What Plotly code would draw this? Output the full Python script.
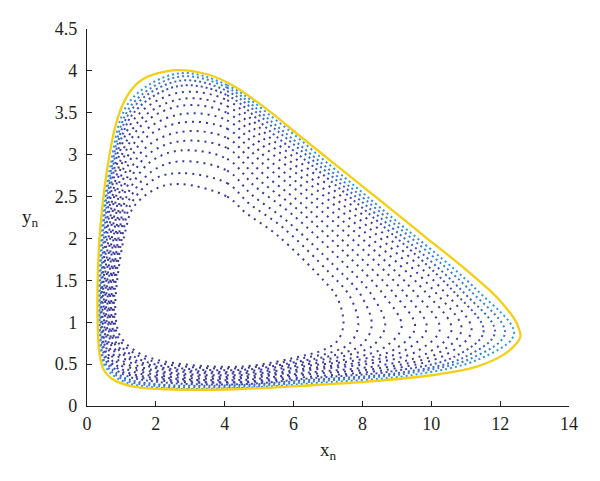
import plotly.graph_objects as go

s01_x = [2.71, 2.71, 2.70, 2.70, 2.70, 2.69, 2.69, 2.69, 2.68, 2.68, 2.67, 2.67, 2.66, 2.66, 2.65]
s01_y = [2.65, 2.78, 2.92, 3.05, 3.16, 3.27, 3.38, 3.48, 3.58, 3.66, 3.74, 3.82, 3.88, 3.93, 3.97]
s02_x = [4.07, 4.07, 4.07, 4.07, 4.07, 4.07, 4.07, 4.07, 4.07, 4.07, 4.07, 4.07, 4.07, 4.07, 4.07]
s02_y = [2.50, 2.66, 2.81, 2.95, 3.08, 3.20, 3.31, 3.41, 3.50, 3.58, 3.65, 3.71, 3.76, 3.80, 3.83]
s03_x = [4.60, 4.70, 4.79, 4.88, 4.96, 5.04, 5.12, 5.19, 5.26, 5.32, 5.38, 5.43, 5.48, 5.52, 5.56]
s03_y = [2.31, 2.42, 2.52, 2.62, 2.71, 2.80, 2.89, 2.97, 3.05, 3.12, 3.18, 3.24, 3.30, 3.34, 3.39]
s04_x = [5.52, 5.69, 5.83, 5.98, 6.11, 6.25, 6.38, 6.49, 6.61, 6.71, 6.81, 6.89, 6.97, 7.04, 7.10]
s04_y = [2.04, 2.13, 2.20, 2.28, 2.35, 2.41, 2.48, 2.54, 2.60, 2.65, 2.70, 2.75, 2.79, 2.82, 2.86]
s05_x = [6.87, 7.04, 7.19, 7.35, 7.49, 7.62, 7.76, 7.88, 8.00, 8.10, 8.20, 8.29, 8.37, 8.44, 8.51]
s05_y = [1.50, 1.59, 1.67, 1.75, 1.83, 1.90, 1.97, 2.04, 2.10, 2.16, 2.21, 2.26, 2.30, 2.34, 2.37]
s06_x = [7.26, 7.63, 7.96, 8.28, 8.61, 8.92, 9.22, 9.53, 9.83, 10.09, 10.36, 10.62, 10.88, 11.10, 11.31]
s06_y = [1.30, 1.31, 1.32, 1.32, 1.33, 1.34, 1.35, 1.35, 1.36, 1.37, 1.37, 1.38, 1.38, 1.39, 1.39]
s07_x = [7.45, 7.88, 8.27, 8.66, 9.14, 9.53, 9.87, 10.25, 10.59, 10.88, 11.17, 11.52, 11.85, 12.14, 12.40]
s07_y = [0.98, 0.97, 0.96, 0.96, 0.95, 0.94, 0.93, 0.92, 0.91, 0.91, 0.90, 0.89, 0.88, 0.87, 0.86]
s08_x = [7.26, 7.64, 7.97, 8.30, 8.64, 8.95, 9.26, 9.57, 9.88, 10.15, 10.41, 10.68, 10.95, 11.17, 11.39]
s08_y = [0.77, 0.75, 0.73, 0.72, 0.70, 0.68, 0.67, 0.65, 0.63, 0.62, 0.61, 0.59, 0.58, 0.57, 0.56]
s09_x = [6.87, 7.09, 7.31, 7.50, 7.69, 7.88, 8.07, 8.26, 8.45, 8.64, 8.81, 8.97, 9.14, 9.30, 9.45]
s09_y = [0.67, 0.64, 0.62, 0.60, 0.57, 0.55, 0.53, 0.51, 0.48, 0.46, 0.44, 0.42, 0.40, 0.39, 0.37]
s10_x = [6.38, 6.39, 6.40, 6.41, 6.42, 6.42, 6.43, 6.44, 6.45, 6.46, 6.47, 6.47, 6.48, 6.49, 6.49]
s10_y = [0.61, 0.58, 0.55, 0.53, 0.50, 0.48, 0.45, 0.43, 0.40, 0.38, 0.35, 0.33, 0.31, 0.29, 0.27]
s11_x = [4.45, 4.45, 4.45, 4.45, 4.45, 4.45, 4.45, 4.45, 4.45, 4.45, 4.45, 4.45, 4.45, 4.45, 4.45]
s11_y = [0.47, 0.45, 0.43, 0.41, 0.39, 0.37, 0.35, 0.33, 0.31, 0.29, 0.28, 0.26, 0.25, 0.23, 0.215]
s12_x = [2.04, 2.04, 2.04, 2.03, 2.03, 2.03, 2.02, 2.02, 2.02, 2.02, 2.01, 2.01, 2.01, 2.00, 2.00]
s12_y = [0.55, 0.52, 0.49, 0.47, 0.45, 0.42, 0.40, 0.37, 0.35, 0.33, 0.31, 0.29, 0.26, 0.24, 0.22]
s13_x = [1.36, 1.33, 1.29, 1.27, 1.24, 1.21, 1.18, 1.15, 1.12, 1.09, 1.07, 1.04, 1.02, 0.99, 0.97]
s13_y = [0.67, 0.64, 0.61, 0.58, 0.56, 0.53, 0.50, 0.48, 0.45, 0.42, 0.40, 0.38, 0.35, 0.33, 0.31]
s14_x = [0.97, 0.93, 0.89, 0.85, 0.82, 0.78, 0.75, 0.71, 0.67, 0.64, 0.61, 0.58, 0.55, 0.52, 0.49]
s14_y = [0.83, 0.80, 0.77, 0.75, 0.73, 0.70, 0.68, 0.65, 0.63, 0.60, 0.58, 0.56, 0.54, 0.52, 0.50]
s15_x = [0.85, 0.81, 0.77, 0.73, 0.69, 0.65, 0.62, 0.58, 0.54, 0.51, 0.47, 0.44, 0.41, 0.38, 0.35]
s15_y = [1.00, 0.99, 0.98, 0.98, 0.97, 0.96, 0.96, 0.95, 0.94, 0.94, 0.93, 0.92, 0.92, 0.91, 0.91]
s16_x = [0.83, 0.79, 0.75, 0.71, 0.67, 0.64, 0.60, 0.56, 0.53, 0.49, 0.46, 0.43, 0.40, 0.37, 0.34]
s16_y = [1.30, 1.30, 1.30, 1.30, 1.30, 1.30, 1.30, 1.30, 1.30, 1.30, 1.30, 1.30, 1.30, 1.30, 1.30]
s17_x = [1.12, 1.06, 1.00, 0.95, 0.90, 0.85, 0.80, 0.75, 0.70, 0.65, 0.60, 0.56, 0.51, 0.47, 0.43]
s17_y = [2.10, 2.10, 2.10, 2.10, 2.10, 2.10, 2.10, 2.10, 2.10, 2.10, 2.10, 2.10, 2.10, 2.10, 2.10]
s18_x = [1.36, 1.29, 1.22, 1.15, 1.09, 1.03, 0.98, 0.92, 0.87, 0.83, 0.78, 0.75, 0.71, 0.68, 0.65]
s18_y = [2.38, 2.42, 2.46, 2.50, 2.54, 2.57, 2.61, 2.64, 2.67, 2.70, 2.72, 2.75, 2.77, 2.78, 2.80]
s19_x = [2.04, 1.96, 1.88, 1.80, 1.74, 1.67, 1.60, 1.54, 1.49, 1.44, 1.38, 1.34, 1.30, 1.27, 1.23]
s19_y = [2.60, 2.71, 2.80, 2.90, 2.99, 3.07, 3.16, 3.23, 3.31, 3.37, 3.43, 3.49, 3.54, 3.58, 3.63]

# Limit cycle (yellow curve)
lc_x = [2.62, 3.49, 4.26, 5.23, 6.19, 7.16, 8.13, 8.80, 9.91, 10.25, 11.03, 11.70, 11.99, 12.38, 12.48, 12.59,
        12.48, 12.09, 11.32, 10.06, 8.13, 6.19, 4.26, 2.33, 1.36, 0.78, 0.49, 0.36, 0.31, 0.31, 0.36, 0.39,
        0.49, 0.63, 0.80, 1.02, 1.30, 1.62, 2.04, 2.62]
lc_y = [4.01, 3.96, 3.82, 3.54, 3.22, 2.90, 2.58, 2.36, 1.99, 1.88, 1.62, 1.38, 1.26, 1.06, 0.99, 0.83,
        0.75, 0.61, 0.47, 0.37, 0.29, 0.24, 0.20, 0.20, 0.23, 0.31, 0.43, 0.63, 0.99, 1.50, 1.98, 2.14,
        2.54, 2.94, 3.30, 3.58, 3.78, 3.90, 3.97, 4.01]

x_ticks = [0, 2, 4, 6, 8, 10, 12, 14]
y_ticks = [0, 0.5, 1, 1.5, 2, 2.5, 3, 3.5, 4, 4.5]
y_tick_text = ["0", "0.5", "1", "1.5", "2", "2.5", "3", "3.5", "4", "4.5"]

spokes_x = [s01_x, s02_x, s03_x, s04_x, s05_x, s06_x, s07_x, s08_x, s09_x, s10_x,
            s11_x, s12_x, s13_x, s14_x, s15_x, s16_x, s17_x, s18_x, s19_x]
spokes_y = [s01_y, s02_y, s03_y, s04_y, s05_y, s06_y, s07_y, s08_y, s09_y, s10_y,
            s11_y, s12_y, s13_y, s14_y, s15_y, s16_y, s17_y, s18_y, s19_y]

ring_colors = ["#3b3a9c"] * 11 + ["#3c4cb2", "#3b63c4", "#3a7dd4", "#3494df"]

fig = go.Figure()
n_rings = len(s01_x)
for k in range(n_rings):
    rx = [s[k] for s in spokes_x]
    ry = [s[k] for s in spokes_y]
    rx.append(rx[0])
    ry.append(ry[0])
    dash = "2px,5px" if k < 11 else "2px,3px"
    fig.add_trace(go.Scatter(
        x=rx, y=ry, mode="lines",
        line=dict(color=ring_colors[k], width=2, dash=dash, shape="spline", smoothing=1.0),
        hoverinfo="skip", showlegend=False))

fig.add_trace(go.Scatter(
    x=lc_x, y=lc_y, mode="lines",
    line=dict(color="#f4cf14", width=2.3, shape="spline", smoothing=1.0),
    hoverinfo="skip", showlegend=False))

font_family = "Liberation Serif, DejaVu Serif, serif"
ink = "#231f20"

# the page body adds an 8px offset, so margins are shifted to keep the plot area in place
fig.update_layout(
    width=600, height=481,
    margin=dict(l=78.5, r=38.5, t=21.3, b=83.3),
    paper_bgcolor="white", plot_bgcolor="white",
    font=dict(family=font_family, size=18, color=ink),
    xaxis=dict(range=[0, 14], tickvals=x_ticks, showgrid=False, zeroline=False,
               showline=True, linecolor=ink, linewidth=1.3,
               ticks="inside", ticklen=5, tickcolor=ink, tickwidth=1.3,
               ticklabelstandoff=1,
               tickfont=dict(family=font_family, size=18, color=ink)),
    yaxis=dict(range=[0, 4.5], tickvals=y_ticks, ticktext=y_tick_text, showgrid=False, zeroline=False,
               showline=True, linecolor=ink, linewidth=1.3,
               ticks="inside", ticklen=5, tickcolor=ink, tickwidth=1.3,
               ticklabelstandoff=5,
               tickfont=dict(family=font_family, size=18, color=ink)),
    annotations=[
        dict(text="x<sub>n</sub>", xref="paper", yref="paper", x=0.5, y=-0.12,
             xanchor="center", yanchor="middle", showarrow=False,
             font=dict(family=font_family, size=19, color=ink)),
        dict(text="y<sub>n</sub>", xref="paper", yref="paper", x=-0.118, y=0.5,
             xanchor="center", yanchor="middle", showarrow=False,
             font=dict(family=font_family, size=19, color=ink)),
    ],
)

fig.write_html("out.html")
